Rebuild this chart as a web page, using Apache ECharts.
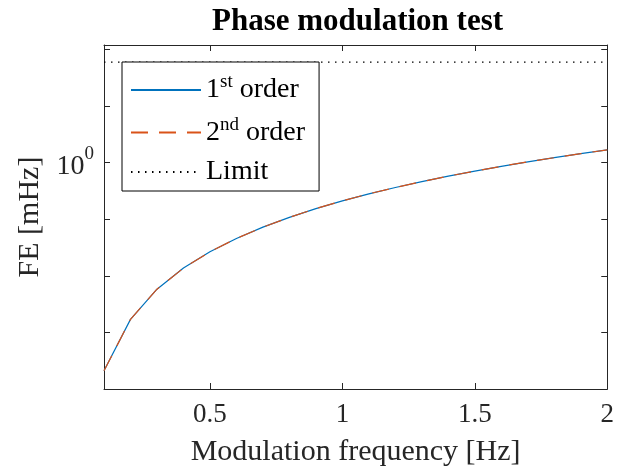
<!DOCTYPE html>
<html><head><meta charset="utf-8">
<script src="https://cdn.jsdelivr.net/npm/echarts@6/dist/echarts.min.js"></script>
<style>html,body{margin:0;padding:0;background:#fff}#c{width:617px;height:474px}</style>
</head><body><div id="c"></div>
<script>
// ---- data ----
const freq = [0.1,0.2,0.3,0.4,0.5,0.6,0.7,0.8,0.9,1.0,1.1,1.2,1.3,1.4,1.5,1.6,1.7,1.8,1.9,2.0];
const fe1st = [0.00021,0.0017,0.0058,0.0137,0.0266,0.0458,0.0725,0.108,0.154,0.211,0.281,0.364,0.462,0.577,0.71,0.862,1.033,1.226,1.442,1.68];
const fe2nd = [0.00021,0.0017,0.0058,0.0137,0.0266,0.0458,0.0725,0.108,0.154,0.211,0.281,0.364,0.462,0.577,0.71,0.862,1.033,1.226,1.442,1.68];
const limitValue = 60;
const xTickValues = [0.5, 1, 1.5, 2];
const yLabeledValue = 1;
const seriesNames = ['1st order', '2nd order', 'Limit'];

const font = 'Liberation Serif';
const axisColor = '#262626';
const chart = echarts.init(document.getElementById('c'));

function pairs(xs, ys){ return xs.map((x,i)=>[x, ys[i]]); }

const richText = {
  n: {fontFamily: font, fontSize: 28, color: '#000', lineHeight: 34},
  s: {fontFamily: font, fontSize: 19, color: '#000', lineHeight: 34, verticalAlign: 'top'}
};

const option = {
  animation: false,
  graphic: [{
    type: 'text', x: 357.5, y: 6,
    style: {text: 'Phase modulation test', fontFamily: font, fontWeight: 'bold', fontSize: 31, fill: '#000', textAlign: 'center', textVerticalAlign: 'top'}
  }],
  grid: {left: 104, right: 6, top: 45, bottom: 85},
  legend: {
    orient: 'vertical', left: 122, top: 62,
    data: seriesNames,
    backgroundColor: '#fff', borderColor: '#000', borderWidth: 1, borderRadius: 0,
    padding: [11, 14, 5, 8], itemWidth: 70, itemHeight: 14, itemGap: 11.5,
    itemStyle: {opacity: 0},
    formatter: function(name){
      if (name === '1st order') return '{n|1}{s|st}{n| order}';
      if (name === '2nd order') return '{n|2}{s|nd}{n| order}';
      return '{n|' + name + '}';
    },
    textStyle: {rich: richText}
  },
  xAxis: [{
    type: 'value', min: 0.1, max: 2, position: 'bottom',
    axisLine: {show: true, onZero: false, lineStyle: {color: axisColor, width: 1}},
    axisTick: {show: true, inside: true, length: 6, customValues: xTickValues, lineStyle: {color: axisColor}},
    axisLabel: {customValues: xTickValues, fontFamily: font, fontSize: 27, color: axisColor, margin: 12},
    splitLine: {show: false},
    name: 'Modulation frequency [Hz]', nameLocation: 'middle', nameGap: 48,
    nameTextStyle: {fontFamily: font, fontSize: 30, color: axisColor}
  }, {
    type: 'value', min: 0.1, max: 2, position: 'top',
    axisLine: {show: true, onZero: false, lineStyle: {color: axisColor, width: 1}},
    axisTick: {show: true, inside: true, length: 6, customValues: xTickValues, lineStyle: {color: axisColor}},
    axisLabel: {show: false}, splitLine: {show: false}
  }],
  yAxis: [{
    type: 'log', logBase: 10, min: 0.0001, max: 120, interval: 1, position: 'left',
    axisLine: {show: true, onZero: false, lineStyle: {color: axisColor, width: 1}},
    axisTick: {show: true, inside: true, length: 6, lineStyle: {color: axisColor}},
    axisLabel: {
      fontFamily: font, color: axisColor, margin: 10, showMinLabel: true, showMaxLabel: false,
      formatter: function(v){ return Math.abs(v - yLabeledValue) < 1e-9 ? '{b|10}{s|0}' : ''; },
      rich: {
        b: {fontFamily: font, fontSize: 28, color: axisColor, lineHeight: 36, verticalAlign: 'bottom'},
        s: {fontFamily: font, fontSize: 19, color: axisColor, lineHeight: 36, verticalAlign: 'top'}
      }
    },
    splitLine: {show: false},
    name: 'FE [mHz]', nameLocation: 'middle', nameGap: 58,
    nameTextStyle: {fontFamily: font, fontSize: 30, color: axisColor}
  }, {
    type: 'log', logBase: 10, min: 0.0001, max: 120, interval: 1, position: 'right',
    axisLine: {show: true, onZero: false, lineStyle: {color: axisColor, width: 1}},
    axisTick: {show: true, inside: true, length: 6, lineStyle: {color: axisColor}},
    axisLabel: {show: false}, splitLine: {show: false}
  }],
  series: [{
    name: seriesNames[0], type: 'line', data: pairs(freq, fe1st), symbol: 'none',
    lineStyle: {color: '#0072BD', width: 1.2}, itemStyle: {color: '#0072BD'}
  }, {
    name: seriesNames[1], type: 'line', data: pairs(freq, fe2nd), symbol: 'none',
    lineStyle: {color: '#D95319', width: 1.2, type: [17, 11]}, itemStyle: {color: '#D95319'}
  }, {
    name: seriesNames[2], type: 'line', data: [[freq[0], limitValue], [freq[freq.length-1], limitValue]], symbol: 'none',
    lineStyle: {color: '#000', width: 1.2, type: [1.5, 5.5]}, itemStyle: {color: '#000'}
  }]
};
chart.setOption(option);
</script>
</body></html>
